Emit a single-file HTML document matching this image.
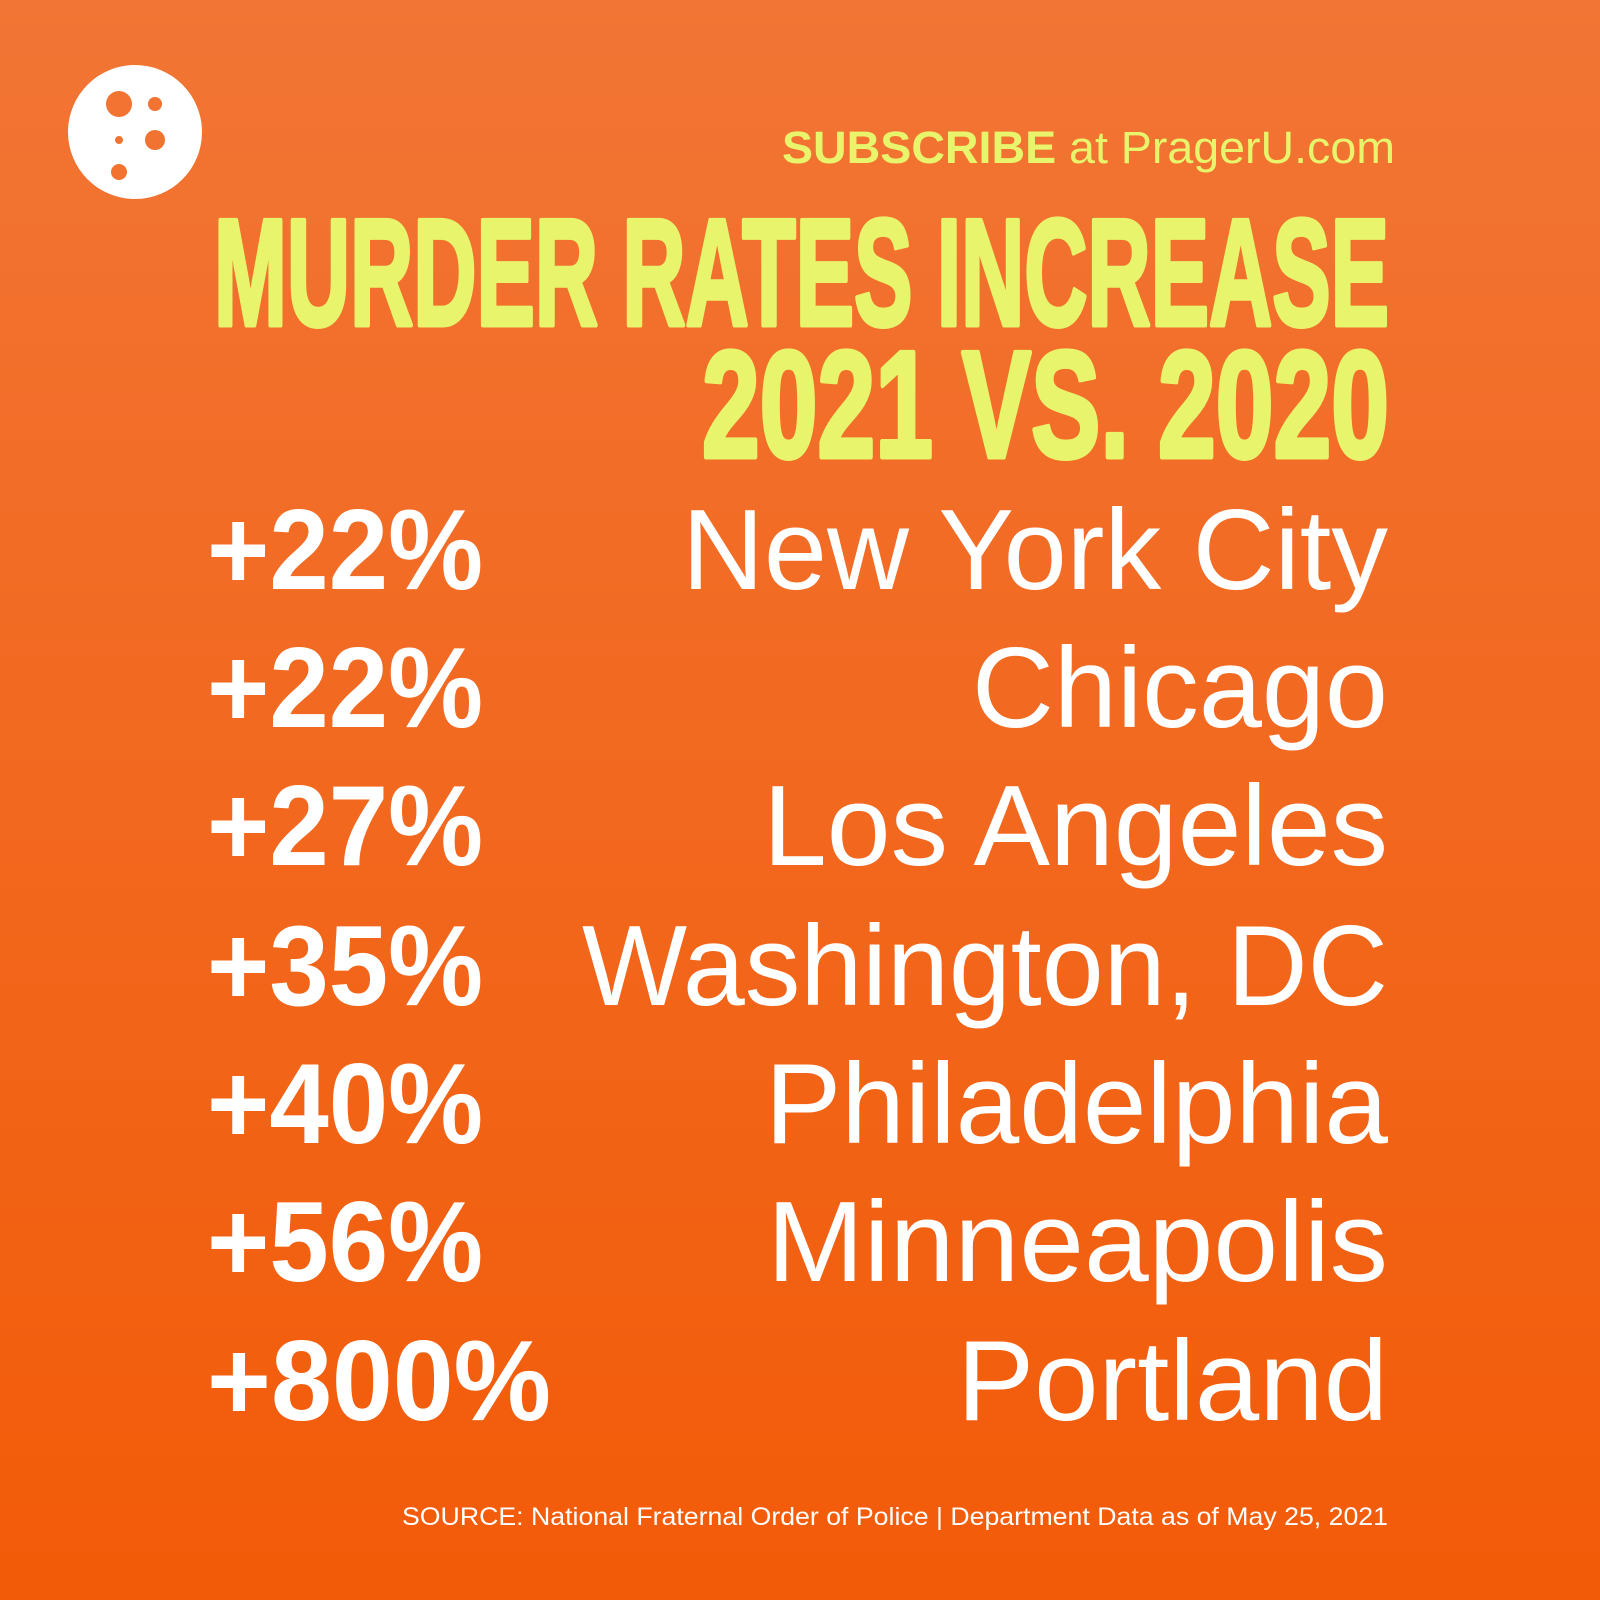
<!DOCTYPE html>
<html><head><meta charset="utf-8"><style>
html,body{margin:0;padding:0;width:1600px;height:1600px;overflow:hidden}
svg{display:block}
</style></head><body>
<svg width="1600" height="1600" viewBox="0 0 1600 1600" xmlns="http://www.w3.org/2000/svg">
<defs>
<linearGradient id="bg" x1="0" y1="0" x2="0" y2="1">
<stop offset="0" stop-color="#f27535"/>
<stop offset="1" stop-color="#f25b08"/>
</linearGradient>
<mask id="m"><rect width="1600" height="1600" fill="#fff"/>
<circle cx="119" cy="104" r="13" fill="#000"/>
<circle cx="155" cy="104" r="7" fill="#000"/>
<circle cx="119" cy="140" r="4" fill="#000"/>
<circle cx="155" cy="140" r="10" fill="#000"/>
<circle cx="119" cy="172" r="8" fill="#000"/>
</mask>
</defs>
<rect width="1600" height="1600" fill="url(#bg)"/>
<circle cx="135" cy="132" r="67" fill="#fff" mask="url(#m)"/>
<g font-family="Liberation Sans, sans-serif">
<text x="782" y="163" font-size="45" fill="#e8f56c" textLength="613" lengthAdjust="spacingAndGlyphs"><tspan font-weight="bold">SUBSCRIBE</tspan> at PragerU.com</text>
<g stroke="#e8f56c" stroke-width="5" stroke-linejoin="round">
<text x="214" y="325" font-size="152" font-weight="bold" fill="#e8f56c" textLength="1175" lengthAdjust="spacingAndGlyphs">MURDER RATES INCREASE</text>
<text x="702" y="457" font-size="152" font-weight="bold" fill="#e8f56c" textLength="687" lengthAdjust="spacingAndGlyphs">2021 VS. 2020</text>
</g>
<g fill="#fff" font-size="114">
<g font-weight="bold">
<text x="207" y="589" textLength="276" lengthAdjust="spacingAndGlyphs">+22%</text>
<text x="207" y="727" textLength="276" lengthAdjust="spacingAndGlyphs">+22%</text>
<text x="207" y="865" textLength="276" lengthAdjust="spacingAndGlyphs">+27%</text>
<text x="207" y="1005" textLength="276" lengthAdjust="spacingAndGlyphs">+35%</text>
<text x="207" y="1143" textLength="276" lengthAdjust="spacingAndGlyphs">+40%</text>
<text x="207" y="1281" textLength="276" lengthAdjust="spacingAndGlyphs">+56%</text>
<text x="207" y="1420" textLength="344" lengthAdjust="spacingAndGlyphs">+800%</text>
</g>
<text x="682" y="589" textLength="706" lengthAdjust="spacingAndGlyphs">New York City</text>
<text x="972" y="727" textLength="416" lengthAdjust="spacingAndGlyphs">Chicago</text>
<text x="763" y="865" textLength="625" lengthAdjust="spacingAndGlyphs">Los Angeles</text>
<text x="582" y="1005" textLength="806" lengthAdjust="spacingAndGlyphs">Washington, DC</text>
<text x="765" y="1143" textLength="623" lengthAdjust="spacingAndGlyphs">Philadelphia</text>
<text x="767" y="1281" textLength="621" lengthAdjust="spacingAndGlyphs">Minneapolis</text>
<text x="957" y="1420" textLength="431" lengthAdjust="spacingAndGlyphs">Portland</text>
</g>
<text x="402" y="1525" font-size="25" fill="#fff" textLength="986" lengthAdjust="spacingAndGlyphs">SOURCE: National Fraternal Order of Police | Department Data as of May 25, 2021</text>
</g>
</svg>
</body></html>
